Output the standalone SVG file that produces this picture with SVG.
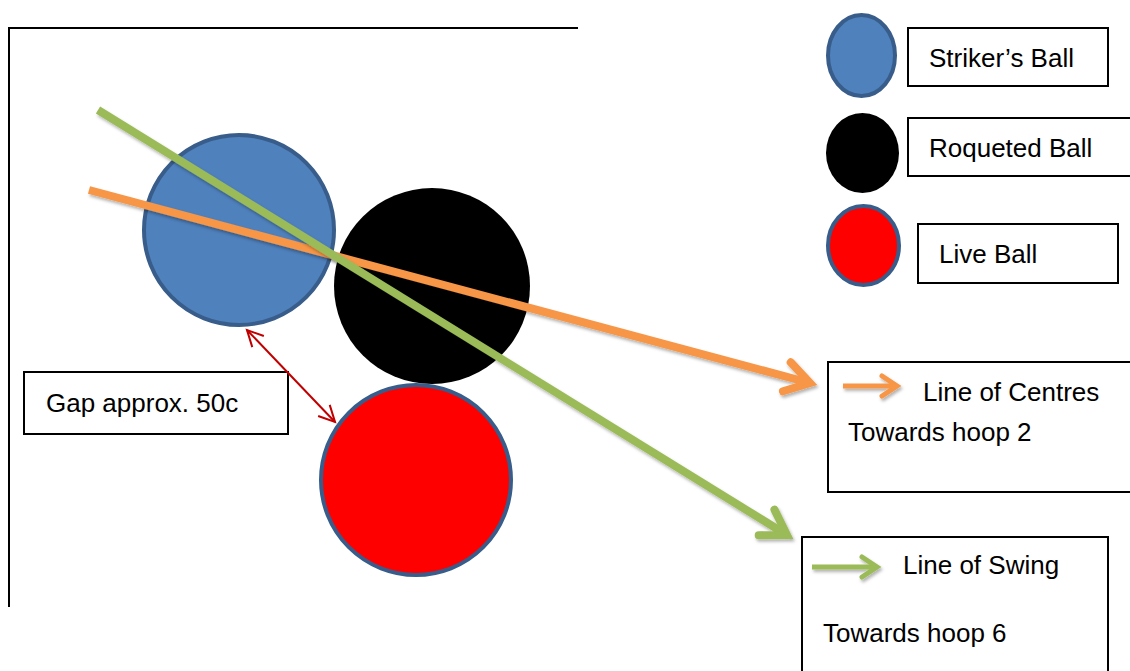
<svg xmlns="http://www.w3.org/2000/svg" width="1130" height="671" viewBox="0 0 1130 671">
<defs>
<style>
.box{fill:#fff;stroke:#000;stroke-width:2}
.t{font-family:"Liberation Sans",Arial,sans-serif;font-size:26px;fill:#000}
.ball{stroke:#385d8a;stroke-width:4}
</style>
<filter id="sh" filterUnits="userSpaceOnUse" x="0" y="0" width="1130" height="671">
<feDropShadow dx="1.5" dy="2.5" stdDeviation="1.8" flood-color="#000" flood-opacity="0.3"/>
</filter>
<marker id="aO" markerUnits="userSpaceOnUse" orient="auto" refX="-4" refY="0" markerWidth="60" markerHeight="60" viewBox="-40 -30 60 60" overflow="visible">
<path d="M-28,-15 L-4,0 L-28,15" fill="none" stroke="#f79646" stroke-width="8" stroke-linecap="round"/>
</marker>
<marker id="aG" markerUnits="userSpaceOnUse" orient="auto" refX="-4" refY="0" markerWidth="60" markerHeight="60" viewBox="-40 -30 60 60" overflow="visible">
<path d="M-28,-15 L-4,0 L-28,15" fill="none" stroke="#9bbb59" stroke-width="8" stroke-linecap="round"/>
</marker>
<marker id="aOs" markerUnits="userSpaceOnUse" orient="auto" refX="-3" refY="0" markerWidth="40" markerHeight="40" viewBox="-30 -20 40 40" overflow="visible">
<path d="M-18,-10 L-3,0 L-18,10" fill="none" stroke="#f79646" stroke-width="5" stroke-linecap="round"/>
</marker>
<marker id="aGs" markerUnits="userSpaceOnUse" orient="auto" refX="-3" refY="0" markerWidth="40" markerHeight="40" viewBox="-30 -20 40 40" overflow="visible">
<path d="M-18,-10 L-3,0 L-18,10" fill="none" stroke="#9bbb59" stroke-width="5" stroke-linecap="round"/>
</marker>
<marker id="aR" markerUnits="userSpaceOnUse" orient="auto-start-reverse" refX="0" refY="0" markerWidth="30" markerHeight="30" viewBox="-20 -15 30 30" overflow="visible">
<path d="M-16,-8 L0,0 L-16,8" fill="none" stroke="#c00000" stroke-width="2"/>
</marker>
</defs>

<g id="frame">
<line x1="8" y1="28" x2="578" y2="28" stroke="#000" stroke-width="2"/>
<line x1="9" y1="28" x2="9" y2="607" stroke="#000" stroke-width="2"/>
</g>

<g id="striker-ball"><circle class="ball" cx="239" cy="230" r="95" fill="#4f81bd"/></g>
<g id="roqueted-ball"><circle cx="432" cy="286" r="98" fill="#000"/></g>
<g id="live-ball"><circle class="ball" cx="416" cy="480" r="95" fill="#ff0000"/></g>

<g id="gap-box">
<rect class="box" x="24" y="372" width="264" height="62"/>
<text class="t" x="46" y="412">Gap approx. 50c</text>
</g>

<g id="connectors">
<line x1="89" y1="190" x2="810" y2="383" stroke="#f79646" stroke-width="8" marker-end="url(#aO)" filter="url(#sh)"/>
<line x1="98" y1="110" x2="787" y2="535" stroke="#9bbb59" stroke-width="8" marker-end="url(#aG)" filter="url(#sh)"/>
<line x1="247" y1="330" x2="335" y2="422" stroke="#c00000" stroke-width="2" marker-start="url(#aR)" marker-end="url(#aR)"/>
</g>

<g id="legend-striker">
<ellipse class="ball" cx="861.5" cy="55.5" rx="33.5" ry="40.5" fill="#4f81bd"/>
<rect class="box" x="908" y="28" width="200" height="58"/>
<text class="t" x="929" y="67">Striker’s Ball</text>
</g>
<g id="legend-roqueted">
<ellipse cx="862.5" cy="153" rx="36.5" ry="40" fill="#000"/>
<rect class="box" x="908" y="118" width="230" height="58"/>
<text class="t" x="929" y="157">Roqueted Ball</text>
</g>
<g id="legend-live">
<ellipse class="ball" cx="863.5" cy="245.5" rx="35.5" ry="39.5" fill="#ff0000"/>
<rect class="box" x="918" y="224" width="200" height="59"/>
<text class="t" x="939" y="263">Live Ball</text>
</g>

<g id="centres-box">
<rect class="box" x="828" y="362" width="310" height="130"/>
<line x1="843" y1="386" x2="897" y2="386" stroke="#f79646" stroke-width="5" marker-end="url(#aOs)" filter="url(#sh)"/>
<text class="t" x="923" y="401">Line of Centres</text>
<text class="t" x="848" y="441">Towards hoop 2</text>
</g>

<g id="swing-box">
<rect class="box" x="802" y="537" width="306" height="150"/>
<line x1="812" y1="567" x2="877" y2="567" stroke="#9bbb59" stroke-width="5" marker-end="url(#aGs)" filter="url(#sh)"/>
<text class="t" x="903" y="574">Line of Swing</text>
<text class="t" x="823" y="642">Towards hoop 6</text>
</g>
</svg>
